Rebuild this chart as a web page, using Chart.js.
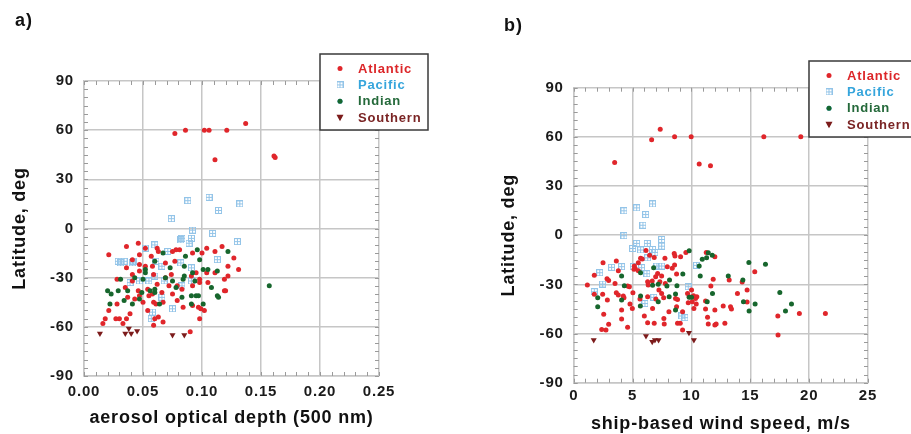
<!DOCTYPE html>
<html>
<head>
<meta charset="utf-8">
<script src="https://cdn.jsdelivr.net/npm/chart.js@4.4.1/dist/chart.umd.min.js"></script>
<style>
  body { margin: 0; background: #fff; }
  #wrap { position: relative; width: 911px; height: 434px; overflow: hidden; }
  canvas { position: absolute; top: 0; }
  .lab { position: absolute; font: bold 18px "Liberation Sans", Arial, sans-serif; letter-spacing: 1px; color: #111; }
</style>
</head>
<body>
<div id="wrap">
  <canvas id="chartA" width="455" height="434" style="left:0"></canvas>
  <canvas id="chartB" width="456" height="434" style="left:455px"></canvas>
  <div class="lab" style="left:15px;top:10px">a)</div>
  <div class="lab" style="left:504px;top:15px">b)</div>
</div>
<script>
// panel a: [aerosol optical depth, latitude]
var atlanticA = [[0.077,58],[0.086,60],[0.102,60],[0.106,60],[0.121,60],[0.137,64],[0.111,42],[0.161,44.3],[0.162,43.3],
  [0.046,-9],[0.021,-16],[0.036,-11],[0.052,-12],[0.062,-12],[0.063,-14],[0.078,-13],[0.081,-13],[0.104,-12],[0.111,-14],
  [0.117,-11],[0.100,-15],[0.075,-14],[0.092,-15],[0.057,-17],[0.047,-16],[0.127,-18],[0.041,-19],[0.047,-22],[0.058,-23],
  [0.069,-21],[0.077,-20],[0.052,-23],[0.036,-24],[0.122,-23],[0.111,-27],[0.104,-27],[0.122,-29],[0.131,-25],[0.095,-27],
  [0.041,-28],[0.059,-28],[0.069,-30],[0.074,-28],[0.047,-26],[0.028,-31],[0.091,-29],[0.098,-31],[0.105,-33],[0.119,-31],
  [0.041,-32],[0.035,-36],[0.046,-38],[0.054,-37],[0.062,-34],[0.072,-35],[0.079,-35],[0.092,-35],[0.098,-33],[0.066,-39],
  [0.075,-40],[0.083,-37],[0.119,-38],[0.120,-38],[0.055,-41],[0.058,-40],[0.047,-41],[0.037,-42],[0.043,-43],[0.028,-46],
  [0.050,-45],[0.059,-45],[0.061,-46],[0.067,-45],[0.079,-44],[0.084,-48],[0.092,-47],[0.097,-48],[0.099,-49],[0.102,-50],
  [0.021,-50],[0.054,-50],[0.039,-52],[0.063,-54],[0.060,-55],[0.018,-55],[0.030,-55],[0.027,-55],[0.036,-55],[0.067,-57],
  [0.098,-55],[0.033,-58],[0.059,-59],[0.016,-58],[0.090,-63]];
var pacificA = [[0.088,17],[0.106,19],[0.114,11],[0.132,15],[0.074,6],[0.092,-1],[0.109,-3],[0.083,-6],[0.091,-6],[0.082,-7],
  [0.089,-9],[0.130,-8],[0.052,-12],[0.060,-10],[0.071,-14],[0.029,-20],[0.034,-20],[0.031,-21],[0.041,-21],[0.042,-20],
  [0.066,-23],[0.082,-21],[0.113,-19],[0.091,-24],[0.060,-29],[0.039,-33],[0.047,-32],[0.055,-32],[0.068,-32],[0.083,-35],
  [0.091,-32],[0.066,-42],[0.075,-49],[0.058,-51],[0.057,-55],[0.061,-20]];
var indianA = [[0.096,-13],[0.122,-14],[0.067,-15],[0.086,-17],[0.098,-19],[0.060,-20],[0.073,-24],[0.085,-23],[0.101,-25],
  [0.105,-25],[0.113,-26],[0.092,-27],[0.052,-25],[0.043,-30],[0.031,-31],[0.050,-31],[0.075,-32],[0.084,-31],[0.094,-32],
  [0.085,-29],[0.020,-38],[0.029,-38],[0.037,-38],[0.023,-40],[0.049,-39],[0.056,-38],[0.060,-39],[0.078,-36],[0.060,-37],
  [0.083,-42],[0.091,-41],[0.095,-41],[0.097,-41],[0.108,-36],[0.113,-41],[0.114,-42],[0.047,-43],[0.041,-46],[0.022,-46],
  [0.034,-44],[0.064,-46],[0.101,-46],[0.091,-46],[0.157,-35],[0.052,-27],[0.069,-30]];
var southernA = [[0.0135,-64],[0.035,-64],[0.040,-64],[0.038,-61],[0.045,-62.5],[0.075,-65],[0.085,-65]];

// panel b: [wind speed m/s, latitude]
var atlanticB = [[7.35,64.6],[6.62,58.3],[8.57,60],[9.98,60],[16.15,60],[19.29,60],[3.48,44.4],[10.66,43.4],[11.62,42.4],
  [1.16,-30.4],[1.75,-24.5],[2.49,-16.8],[1.75,-36.1],[2.46,-36.1],[2.83,-26.5],[2.97,-27.6],[2.86,-39.6],[2.55,-48.3],
  [2.38,-57.5],[2.74,-57.9],[2.97,-54.4],[3.62,-15.8],[3.51,-29.4],[3.79,-21.7],[3.62,-35.1],[3.79,-36.5],[4.21,-37.1],
  [4.07,-45.7],[4.07,-51.2],[4.27,-38.1],[4.58,-56.2],[4.58,-31],[4.73,-31.4],[4.78,-42],[5.03,-35.1],[4.98,-44.7],
  [5.15,-18.8],[5.49,-16.8],[5.23,-20.4],[5.68,-14.1],[5.82,-14.5],[6.14,-9.4],[6.45,-12.3],[5.63,-39],[6.0,-49.3],
  [6.28,-53.4],[6.28,-37.5],[6.7,-44.7],[6.84,-53.8],[6.33,-30.4],[6.67,-28],[6.84,-13.6],[6.96,-25.3],[7.13,-23.3],
  [7.24,-33.5],[7.32,-28.4],[7.47,-24.9],[7.78,-29.4],[7.75,-14.1],[7.66,-50.8],[7.69,-54.2],[7.47,-35.5],[7.64,-38.1],
  [7.95,-19.2],[8.09,-46.7],[8.37,-20.2],[8.57,-18.2],[8.54,-11.1],[8.6,-12.7],[8.74,-23.7],[8.65,-38.6],[8.82,-39.2],
  [8.74,-43.6],[8.82,-53.8],[9.05,-53.8],[9.08,-13.1],[9.25,-46.7],[9.25,-57.9],[9.53,-10.5],[9.67,-35.5],[9.73,-41.2],
  [9.81,-37.5],[10.01,-33.5],[10.07,-40.6],[10.18,-36.9],[10.35,-38.6],[10.41,-42],[10.46,-37.5],[10.21,-44.7],[11.2,-40.2],
  [11.2,-45],[11.37,-50.1],[11.43,-54.2],[11.26,-10.5],[11.99,-13.1],[11.65,-31],[11.85,-26.9],[11.99,-45.7],[11.99,-54.8],
  [12.1,-54.2],[12.7,-43.2],[12.84,-53.8],[13.21,-27.4],[13.32,-43.6],[13.4,-45.1],[13.91,-35.5],[14.31,-28.6],[14.73,-33.5],
  [14.73,-40.8],[15.38,-22.3],[17.34,-49.3],[17.36,-60.9],[19.17,-47.7],[21.38,-47.7],[5.12,-20.8],[5.49,-21.7],[6.28,-28.4],
  [6.98,-39]];
var pacificB = [[4.27,14.9],[5.35,16.7],[6.7,19.1],[6.11,12.6],[5.88,6.1],[4.27,-0.3],[5.35,-5],[5.01,-8.1],[6.25,-5],
  [5.68,-9],[7.47,-2.6],[7.47,-6.7],[6.7,-8.7],[6.28,-13.8],[6.9,-10.5],[5.06,-19.2],[5.77,-19.8],[3.22,-19.6],[4.07,-19.2],
  [2.21,-22.9],[2.46,-29.8],[1.75,-34.5],[6.22,-23.5],[7.07,-18.8],[7.47,-18.8],[10.44,-18.4],[9.73,-31.4],[6.81,-37.9],
  [6.05,-41.7],[9.19,-49.3],[9.45,-50.3]];
var indianB = [[9.81,-9.5],[11.43,-10.7],[11.77,-12.3],[10.92,-14.7],[11.29,-13.8],[10.66,-18.8],[10.75,-24.9],[14.88,-16.6],
  [16.29,-17.8],[13.13,-24.9],[14.37,-27.4],[11.79,-35.5],[11.34,-40.6],[14.42,-40.6],[15.41,-42],[14.9,-46.3],[17.51,-34.9],
  [18.5,-42],[17.99,-46.3],[4.07,-24.9],[5.68,-22.9],[6.79,-19.8],[8.14,-27.4],[9.27,-23.7],[4.3,-30.8],[6.7,-30.6],
  [7.18,-30],[7.92,-31],[8.77,-30.8],[8.65,-35.9],[8.11,-37.5],[5.68,-37.1],[4.07,-39.6],[2.04,-38.1],[2.04,-43.6],
  [5.66,-43.2],[7.18,-40.6],[8.65,-45.7],[9.81,-37.9],[10.01,-37.9]];
var southernB = [[1.7,-64],[6.14,-61.5],[6.67,-65],[6.9,-64],[7.21,-64],[9.79,-59.5],[10.21,-64]];

var oceanNames = ['Atlantic', 'Pacific', 'Indian', 'Southern'];
var latTicks = [-90, -60, -30, 0, 30, 60, 90];

var FONT = '"Liberation Sans", Arial, sans-serif';
var gridCol = '#c6c6c6';

// light blue square with a cross, the Pacific marker
function crossSquare() {
  var c = document.createElement('canvas');
  c.width = 7; c.height = 7;
  var g = c.getContext('2d');
  g.strokeStyle = '#93c4e8';
  g.lineWidth = 1;
  g.strokeRect(0.5, 0.5, 6, 6);
  g.beginPath();
  g.moveTo(3.5, 0.5); g.lineTo(3.5, 6.5);
  g.moveTo(0.5, 3.5); g.lineTo(6.5, 3.5);
  g.stroke();
  return c;
}
var pacImg = crossSquare();

function toPts(arr) {
  return arr.map(function (p) { return { x: p[0], y: p[1] }; });
}

function makeSets(atl, pac, ind, sou) {
  return [
    { label: oceanNames[0], data: toPts(atl), pointStyle: 'circle', radius: 2.5, backgroundColor: '#e0262b', borderColor: '#e0262b', borderWidth: 0, order: 3, textColor: '#dc2629' },
    { label: oceanNames[1], data: toPts(pac), pointStyle: pacImg, radius: 3.5, backgroundColor: '#93c4e8', borderColor: '#93c4e8', order: 4, textColor: '#36a5dc' },
    { label: oceanNames[2], data: toPts(ind), pointStyle: 'circle', radius: 2.5, backgroundColor: '#17662d', borderColor: '#17662d', borderWidth: 0, order: 2, textColor: '#24693a' },
    { label: oceanNames[3], data: toPts(sou), pointStyle: 'triangle', rotation: 180, radius: 3.5, backgroundColor: '#7c1b1b', borderColor: '#7c1b1b', borderWidth: 0, order: 1, textColor: '#7a2424' }
  ];
}

var spacing = {
  id: 'spacing',
  beforeLayout: function (chart) { chart.ctx.letterSpacing = '0.8px'; },
  beforeDraw: function (chart) { chart.ctx.letterSpacing = '0.8px'; }
};

var minorTicks = {
  id: 'minorTicks',
  afterDraw: function (chart, args, opts) {
    var ctx = chart.ctx, a = chart.chartArea;
    var xs = chart.scales.x, ys = chart.scales.y;
    ctx.save();
    ctx.strokeStyle = '#9a9a9a';
    ctx.lineWidth = 1;
    ctx.beginPath();
    for (var v = xs.min; v <= xs.max + 1e-9; v += opts.xStep) {
      var px = Math.round(xs.getPixelForValue(v)) + 0.5;
      ctx.moveTo(px, a.top); ctx.lineTo(px, a.top + 4);
      ctx.moveTo(px, a.bottom); ctx.lineTo(px, a.bottom - 4);
    }
    for (var w = ys.min; w <= ys.max + 1e-9; w += opts.yStep) {
      var py = Math.round(ys.getPixelForValue(w)) + 0.5;
      ctx.moveTo(a.left, py); ctx.lineTo(a.left + 4, py);
      ctx.moveTo(a.right, py); ctx.lineTo(a.right - 4, py);
    }
    ctx.stroke();
    ctx.restore();
  }
};

var boxLegend = {
  id: 'boxLegend',
  afterDraw: function (chart, args, opts) {
    var ctx = chart.ctx;
    ctx.save();
    ctx.fillStyle = '#fff';
    ctx.fillRect(opts.x, opts.y, opts.w, opts.h);
    ctx.strokeStyle = '#3a3a3a';
    ctx.lineWidth = 1.5;
    ctx.strokeRect(opts.x, opts.y, opts.w, opts.h);
    ctx.font = 'bold 13px ' + FONT;
    ctx.letterSpacing = '0.8px';
    ctx.textBaseline = 'middle';
    chart.data.datasets.forEach(function (ds, i) {
      var cy = opts.y + 14.5 + i * 16.4;
      var cx = opts.x + 20;
      Chart.helpers.drawPoint(ctx, {
        pointStyle: ds.pointStyle, rotation: ds.rotation || 0,
        radius: i === 1 ? 3.5 : 2.5, borderWidth: 0
      }, cx, cy);
      ctx.fillStyle = ds.backgroundColor;
      ctx.strokeStyle = ds.borderColor;
      if (ds.pointStyle !== pacImg) {
        ctx.beginPath();
        if (ds.pointStyle === 'triangle') {
          ctx.moveTo(cx - 3.5, cy - 3); ctx.lineTo(cx + 3.5, cy - 3); ctx.lineTo(cx, cy + 3.5);
        } else {
          ctx.arc(cx, cy, 2.5, 0, Math.PI * 2);
        }
        ctx.fill();
      }
      ctx.fillStyle = ds.textColor;
      ctx.fillText(ds.label, opts.x + 38, cy + 0.5);
    });
    ctx.restore();
  }
};

function makeChart(id, sets, cfg) {
  return new Chart(document.getElementById(id), {
    type: 'scatter',
    data: { datasets: sets },
    plugins: [spacing, minorTicks, boxLegend],
    options: {
      responsive: false,
      animation: false,
      layout: { padding: { left: 0, top: cfg.top, right: cfg.right, bottom: 0 } },
      plugins: {
        legend: { display: false },
        tooltip: { enabled: false },
        minorTicks: { xStep: cfg.xMinor, yStep: 5 },
        boxLegend: cfg.legend
      },
      scales: {
        x: {
          type: 'linear', min: cfg.xMin, max: cfg.xMax,
          afterFit: function (s) { s.height = cfg.xH; },
          afterBuildTicks: function (s) { s.ticks = cfg.xTicks.map(function (v) { return { value: v }; }); },
          ticks: {
            autoSkip: false, maxRotation: 0, padding: cfg.xPad, color: '#1a1a1a',
            font: { family: FONT, size: 15, weight: 'bold' },
            callback: cfg.xFmt
          },
          grid: { color: gridCol, lineWidth: 1.5, drawTicks: false },
          border: { color: gridCol, width: 1.5 },
          title: {
            display: true, text: cfg.xTitle, color: '#111',
            font: { family: FONT, size: 18, weight: 'bold', lineHeight: 1 },
            padding: { top: 0, bottom: cfg.xTitlePad }
          }
        },
        y: {
          type: 'linear', min: -90, max: 90,
          afterFit: function (s) { s.width = cfg.yW; },
          afterBuildTicks: function (s) { s.ticks = latTicks.map(function (v) { return { value: v }; }); },
          ticks: {
            autoSkip: false, padding: 10, color: '#1a1a1a',
            font: { family: FONT, size: 15, weight: 'bold' }
          },
          grid: { color: gridCol, lineWidth: 1.5, drawTicks: false },
          border: { color: gridCol, width: 1.5 },
          title: {
            display: true, text: 'Latitude, deg', color: '#111',
            font: { family: FONT, size: 18, weight: 'bold', lineHeight: 1 },
            padding: { top: cfg.yTitlePad, bottom: 0 }
          }
        }
      }
    }
  });
}

makeChart('chartA', makeSets(atlanticA, pacificA, indianA, southernA), {
  top: 81, right: 76, xH: 58, yW: 84,
  xMin: 0, xMax: 0.25, xTicks: [0, 0.05, 0.10, 0.15, 0.20, 0.25], xMinor: 0.01,
  xFmt: function (v) { return v.toFixed(2); },
  xPad: 7, xTitle: 'aerosol optical depth (500 nm)', xTitlePad: 7, yTitlePad: 11.5,
  legend: { x: 320, y: 54, w: 108, h: 76 }
});

makeChart('chartB', makeSets(atlanticB, pacificB, indianB, southernB), {
  top: 87.7, right: 43, xH: 51.3, yW: 118.7,
  xMin: 0, xMax: 25, xTicks: [0, 5, 10, 15, 20, 25], xMinor: 1,
  xFmt: function (v) { return String(v); },
  xPad: 4, xTitle: 'ship-based wind speed, m/s', xTitlePad: 0.5, yTitlePad: 45.5,
  legend: { x: 354, y: 61, w: 130, h: 76 }
});
</script>
</body>
</html>
